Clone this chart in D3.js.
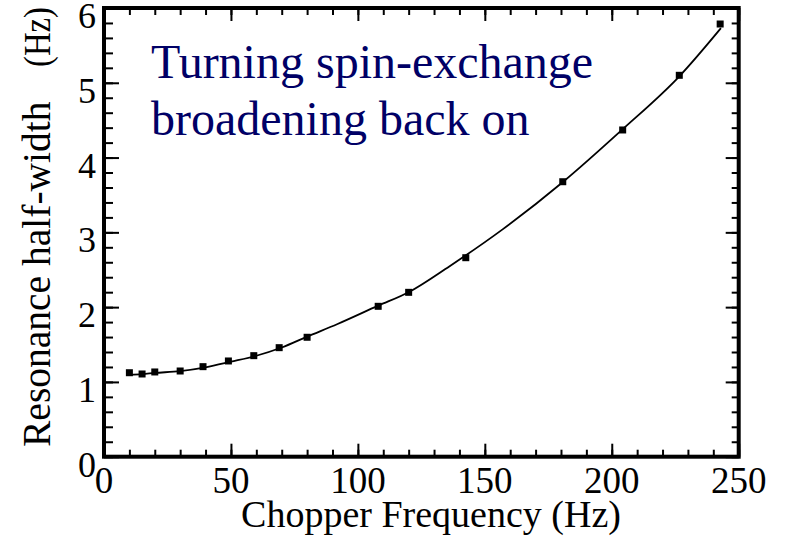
<!DOCTYPE html>
<html lang="en">
<head>
<meta charset="utf-8">
<title>Resonance half-width vs chopper frequency</title>
<script src="https://d3js.org/d3.v7.min.js"></script>
<style>
  body { margin: 0; background: #fff; }
  text { font-family: "Liberation Serif", "Times New Roman", serif; }
</style>
</head>
<body>
<div id="chart"></div>
<script>
// measured points (Hz)
var freq = [10, 15, 20, 30, 39, 49, 59, 69, 80, 108, 120, 142.5, 180.7, 204.3, 226.6, 242.7];
var halfWidth = [1.123, 1.106, 1.133, 1.146, 1.204, 1.28, 1.351, 1.458, 1.597, 2.011, 2.198, 2.661, 3.677, 4.369, 5.10, 5.786];

// fitted curve
var fitFreq = [10, 15, 20, 30, 40, 50, 60, 70, 80, 92, 108, 120, 136, 157, 181, 204, 227, 243];
var fitWidth = [1.095, 1.105, 1.12, 1.145, 1.195, 1.27, 1.35, 1.46, 1.605, 1.775, 2.02, 2.2, 2.545, 3.04, 3.68, 4.37, 5.10, 5.73];

// tick labels
var xTickLabels = [0, 50, 100, 150, 200, 250];
var yTickLabels = [0, 1, 2, 3, 4, 5, 6];

var width = 791, height = 538;
var plotLeft = 104, plotRight = 738.7, plotTop = 8, plotBottom = 456.7;

var svg = d3.select("#chart").append("svg")
  .attr("width", width)
  .attr("height", height);

svg.append("rect").attr("width", width).attr("height", height).attr("fill", "#fff");

var x = d3.scaleLinear().domain([0, 250]).range([plotLeft, plotRight]);
var y = d3.scaleLinear().domain([0, 6]).range([plotBottom, plotTop]);

var xMinor = d3.range(0, 251, 10);
var yMinor = d3.range(0, 31).map(function(d){ return d / 5; });

function noDomain(g) {
  g.select(".domain").remove();
  g.selectAll(".tick line").attr("stroke", "#000").attr("stroke-width", 2);
}

// ticks, all pointing inward
svg.append("g").attr("transform", "translate(0," + plotBottom + ")")
  .call(d3.axisBottom(x).tickValues(xMinor).tickSize(-7).tickFormat("")).call(noDomain);
svg.append("g").attr("transform", "translate(0," + plotBottom + ")")
  .call(d3.axisBottom(x).tickValues(xTickLabels).tickSize(-13).tickFormat("")).call(noDomain);
svg.append("g").attr("transform", "translate(0," + plotTop + ")")
  .call(d3.axisTop(x).tickValues(xMinor).tickSize(-7).tickFormat("")).call(noDomain);
svg.append("g").attr("transform", "translate(0," + plotTop + ")")
  .call(d3.axisTop(x).tickValues(xTickLabels).tickSize(-13).tickFormat("")).call(noDomain);
svg.append("g").attr("transform", "translate(" + plotLeft + ",0)")
  .call(d3.axisLeft(y).tickValues(yMinor).tickSize(-9).tickFormat("")).call(noDomain);
svg.append("g").attr("transform", "translate(" + plotLeft + ",0)")
  .call(d3.axisLeft(y).tickValues(yTickLabels).tickSize(-15).tickFormat("")).call(noDomain);
svg.append("g").attr("transform", "translate(" + plotRight + ",0)")
  .call(d3.axisRight(y).tickValues(yMinor).tickSize(-7).tickFormat("")).call(noDomain);
svg.append("g").attr("transform", "translate(" + plotRight + ",0)")
  .call(d3.axisRight(y).tickValues(yTickLabels).tickSize(-13).tickFormat("")).call(noDomain);

// frame
svg.append("rect")
  .attr("x", plotLeft).attr("y", plotTop)
  .attr("width", plotRight - plotLeft).attr("height", plotBottom - plotTop)
  .attr("fill", "none").attr("stroke", "#000").attr("stroke-width", 4);

// tick labels
svg.selectAll(".xlab").data(xTickLabels).enter().append("text")
  .attr("x", function(d){ return x(d); })
  .attr("y", 493)
  .attr("text-anchor", "middle")
  .attr("font-size", 37)
  .text(function(d){ return d; });

svg.selectAll(".ylab").data(yTickLabels).enter().append("text")
  .attr("x", 96)
  .attr("y", function(d){ return y(d) + 20; })
  .attr("text-anchor", "end")
  .attr("font-size", 36)
  .text(function(d){ return d; });

// axis titles
svg.append("text")
  .attr("x", 431).attr("y", 527)
  .attr("text-anchor", "middle")
  .attr("font-size", 38)
  .text("Chopper Frequency (Hz)");

svg.append("text")
  .attr("transform", "translate(50,447) rotate(-90)")
  .attr("font-size", 39.5)
  .text("Resonance half-width");

svg.append("text")
  .attr("transform", "translate(50,7) rotate(-90)")
  .attr("text-anchor", "end")
  .attr("font-size", 37)
  .attr("textLength", 60)
  .attr("lengthAdjust", "spacingAndGlyphs")
  .text("(Hz)");

// fit curve
var line = d3.line()
  .x(function(d){ return x(d[0]); })
  .y(function(d){ return y(d[1]); })
  .curve(d3.curveMonotoneX);

svg.append("path")
  .datum(d3.zip(fitFreq, fitWidth))
  .attr("d", line)
  .attr("fill", "none")
  .attr("stroke", "#000")
  .attr("stroke-width", 1.8);

// data points
svg.selectAll(".pt").data(d3.zip(freq, halfWidth)).enter().append("rect")
  .attr("x", function(d){ return x(d[0]) - 3.5; })
  .attr("y", function(d){ return y(d[1]) - 3.5; })
  .attr("width", 7).attr("height", 7)
  .attr("fill", "#000");

// annotation
var note = svg.append("text")
  .attr("fill", "#000066")
  .attr("font-size", 48);
note.append("tspan").attr("x", 151).attr("y", 78).text("Turning spin-exchange");
note.append("tspan").attr("x", 151).attr("y", 135).text("broadening back on");
</script>
</body>
</html>
